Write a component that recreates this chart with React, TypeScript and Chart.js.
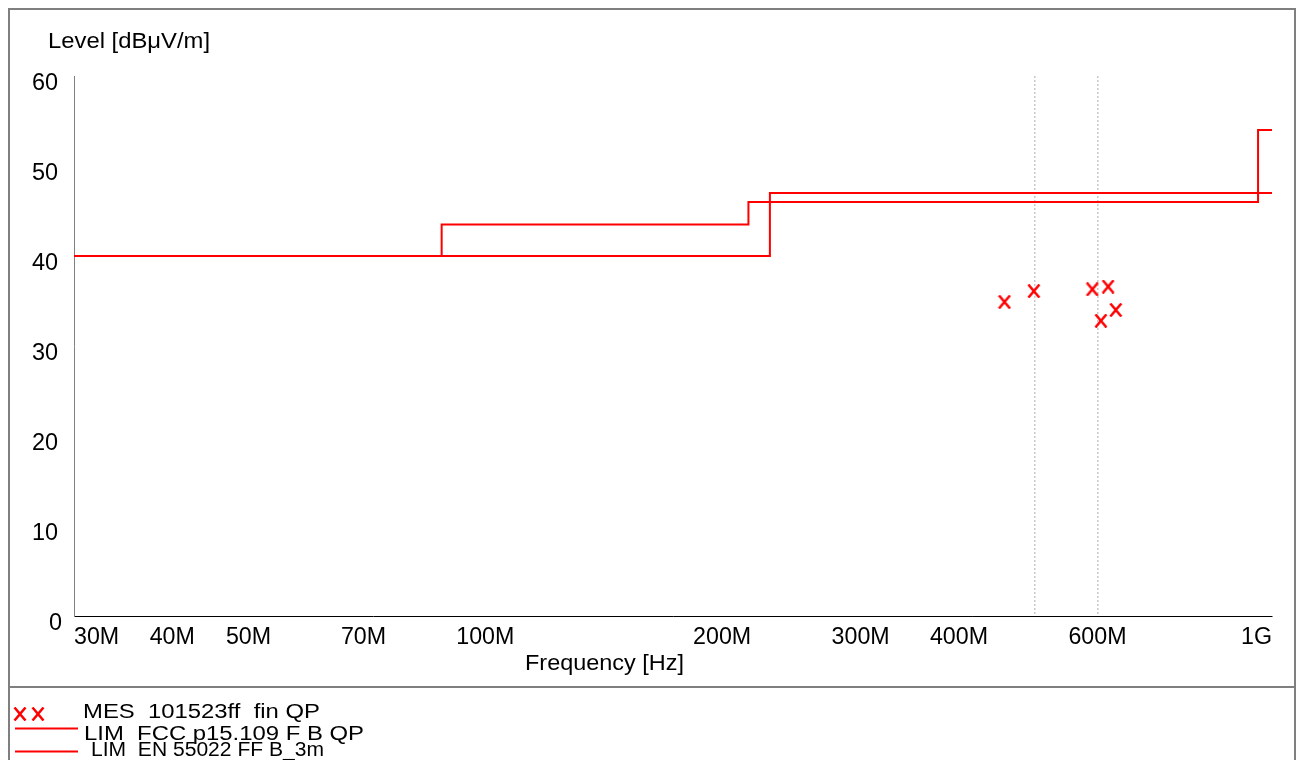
import React, { useEffect, useRef } from "react";
import { Chart, registerables } from "chart.js";

Chart.register(...registerables);

// ---- data ----
const xTickValues = [30, 40, 50, 70, 100, 200, 300, 400, 500, 600, 1000]; // MHz
const xTickLabels = ["30M", "40M", "50M", "70M", "100M", "200M", "300M", "400M", "", "600M", "1G"];
const xGridValues = [500, 600];
const yTickValues = [0, 10, 20, 30, 40, 50, 60];
const yTickLabels = ["0", "10", "20", "30", "40", "50", "60"];

const fccFreq = [30, 88, 216, 960, 1000];
const fccLevel = [40, 43.5, 46, 54, 54];
const enFreq = [30, 230, 1000];
const enLevel = [40, 47, 47];
const mesFreq = [457, 498, 591, 606, 619, 633];
const mesLevel = [34.9, 36.1, 36.3, 32.8, 36.6, 34.0];

const yTitle = "Level [dBμV/m]";
const xTitle = "Frequency [Hz]";
const legendLabels = ["MES  101523ff  fin QP", "LIM  FCC p15.109 F B QP", "LIM  EN 55022 FF B_3m"];

const RED = "#ff0000";
const FONT = '"Liberation Sans", Arial, sans-serif';

function makeMarker(): HTMLCanvasElement {
  const c = document.createElement("canvas");
  c.width = 14;
  c.height = 14;
  const g = c.getContext("2d")!;
  g.strokeStyle = RED;
  g.lineWidth = 2.5;
  g.beginPath();
  g.moveTo(1.5, 0.5);
  g.lineTo(12.5, 13.5);
  g.moveTo(12.5, 0.5);
  g.lineTo(1.5, 13.5);
  g.stroke();
  return c;
}

function sText(
  ctx: CanvasRenderingContext2D,
  text: string,
  x: number,
  y: number,
  size: number,
  sx: number,
  align: CanvasTextAlign = "left",
  targetWidth?: number
) {
  ctx.save();
  ctx.font = `${size}px ${FONT}`;
  ctx.fillStyle = "#000";
  ctx.textAlign = align;
  ctx.textBaseline = "alphabetic";
  let s = sx;
  if (targetWidth) {
    const w = ctx.measureText(text).width;
    if (w > 0) s = targetWidth / w;
  }
  ctx.translate(x, y);
  ctx.scale(s, 1);
  ctx.fillText(text, 0, 0);
  ctx.restore();
}

export default function App() {
  const ref = useRef<HTMLCanvasElement>(null);

  useEffect(() => {
    const canvas = ref.current!;
    const marker = makeMarker();

    const decorPlugin = {
      id: "decor",
      afterDraw(chart: any) {
        const ctx: CanvasRenderingContext2D = chart.ctx;
        const xs = chart.scales.x;
        const ys = chart.scales.y;
        const area = chart.chartArea;

        // outer frame and separator
        ctx.save();
        ctx.strokeStyle = "#7f7f7f";
        ctx.lineWidth = 2;
        ctx.strokeRect(1, 1, chart.width - 2, chart.height + 20);
        ctx.beginPath();
        ctx.moveTo(0, 679);
        ctx.lineTo(chart.width, 679);
        ctx.stroke();
        ctx.restore();

        // y tick labels
        yTickValues.forEach((v, i) => {
          const py = ys.getPixelForValue(v);
          const xr = v === 0 ? 54 : 50;
          sText(ctx, yTickLabels[i], xr, py + 13.5, 23, 1.02, "right");
        });

        // x tick labels
        const last = xTickValues.length - 1;
        xTickValues.forEach((v, i) => {
          const lab = xTickLabels[i];
          if (!lab) return;
          const px = xs.getPixelForValue(v);
          const align: CanvasTextAlign = i === 0 ? "left" : i === last ? "right" : "center";
          sText(ctx, lab, px, area.bottom + 27.5, 23, 1.01, align);
        });

        // titles
        sText(ctx, yTitle, 40, 40, 22, 1, "left", 162);
        sText(ctx, xTitle, 517, 662, 22, 1, "left", 159);

        // legend
        ctx.drawImage(marker, 12 - 7, 706 - 7);
        ctx.drawImage(marker, 30 - 7, 706 - 7);
        sText(ctx, legendLabels[0], 75, 710, 20.5, 1, "left", 237);

        ctx.save();
        ctx.strokeStyle = RED;
        ctx.lineWidth = 2;
        ctx.beginPath();
        ctx.moveTo(7, 720.5);
        ctx.lineTo(70, 720.5);
        ctx.moveTo(7, 743.5);
        ctx.lineTo(70, 743.5);
        ctx.stroke();
        ctx.restore();
        sText(ctx, legendLabels[1], 76, 732, 20.5, 1, "left", 280);
        sText(ctx, legendLabels[2], 83, 748, 19.5, 1, "left", 233);
      },
    };

    const chart = new Chart(canvas, {
      type: "line",
      data: {
        datasets: [
          {
            label: legendLabels[0],
            data: mesFreq.map((f, i) => ({ x: f, y: mesLevel[i] })),
            showLine: false,
            pointStyle: marker as any,
            pointRadius: 6,
            borderColor: RED,
            backgroundColor: RED,
          },
          {
            label: legendLabels[1],
            data: fccFreq.map((f, i) => ({ x: f, y: fccLevel[i] })),
            stepped: "before",
            borderColor: RED,
            borderWidth: 2,
            pointRadius: 0,
            fill: false,
          },
          {
            label: legendLabels[2],
            data: enFreq.map((f, i) => ({ x: f, y: enLevel[i] })),
            stepped: "before",
            borderColor: RED,
            borderWidth: 2,
            pointRadius: 0,
            fill: false,
          },
        ] as any,
      },
      options: {
        responsive: false,
        animation: false,
        devicePixelRatio: 1,
        layout: { padding: { left: 66, top: 68, right: 24, bottom: 144 } },
        plugins: {
          legend: { display: false },
          tooltip: { enabled: false },
          title: { display: false },
        },
        scales: {
          x: {
            type: "logarithmic",
            min: 30,
            max: 1000,
            afterBuildTicks: (s: any) => {
              s.ticks = xTickValues.map((v) => ({ value: v }));
            },
            afterFit: (s: any) => {
              s.height = 0;
            },
            ticks: { display: false },
            grid: {
              display: true,
              drawTicks: false,
              lineWidth: 1.5,
              color: (c: any) =>
                c.tick && xGridValues.includes(c.tick.value) ? "#c8c8c8" : "rgba(0,0,0,0)",
            },
            border: { display: true, color: "#000", width: 1, dash: [2, 2] },
          },
          y: {
            type: "linear",
            min: 0,
            max: 60,
            afterBuildTicks: (s: any) => {
              s.ticks = yTickValues.map((v) => ({ value: v }));
            },
            afterFit: (s: any) => {
              s.width = 0;
            },
            ticks: { display: false },
            grid: { display: false },
            border: { display: true, color: "#808080", width: 1 },
          },
        },
      } as any,
      plugins: [decorPlugin],
    });

    return () => chart.destroy();
  }, []);

  return (
    <div style={{ position: "fixed", left: 8, top: 8 }}>
      <canvas ref={ref} width={1288} height={752} style={{ display: "block" }} />
    </div>
  );
}
